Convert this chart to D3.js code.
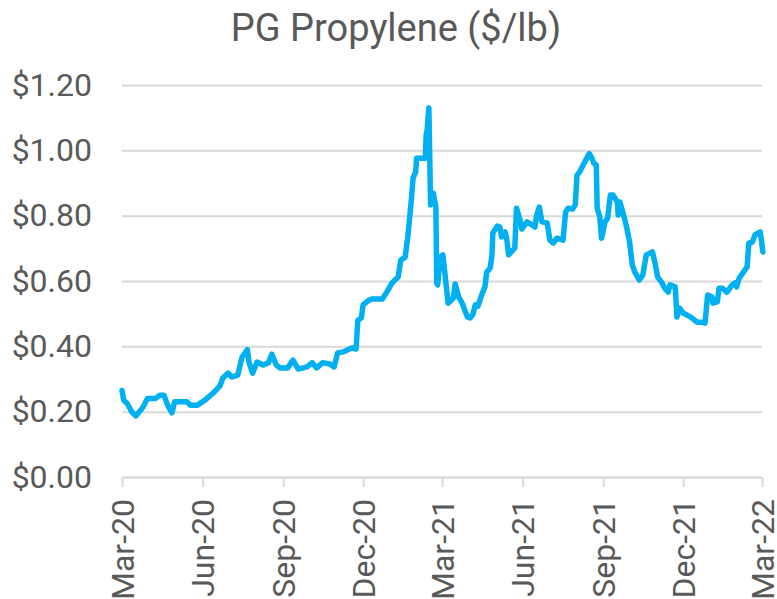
<!DOCTYPE html>
<html>
<head>
<meta charset="utf-8">
<script src="https://cdn.jsdelivr.net/npm/d3@7"></script>
<style>
  body { margin: 0; background: #fff; }
  text { font-family: Roboto, "Noto Sans", sans-serif; fill: #595959; }
</style>
</head>
<body>
<div id="chart"></div>
<script>
var dates = [
  "2020-03-01","2020-03-03","2020-03-07","2020-03-12","2020-03-17","2020-03-25","2020-03-30",
  "2020-04-08","2020-04-13","2020-04-18","2020-04-22","2020-04-27","2020-04-30",
  "2020-05-14","2020-05-18","2020-05-26","2020-06-04","2020-06-13","2020-06-21","2020-06-24","2020-06-30",
  "2020-07-04","2020-07-11","2020-07-16","2020-07-22","2020-07-24","2020-07-28",
  "2020-08-02","2020-08-09","2020-08-15","2020-08-19","2020-08-24","2020-08-28",
  "2020-09-06","2020-09-12","2020-09-18","2020-09-28","2020-10-04","2020-10-09","2020-10-16","2020-10-24","2020-10-29",
  "2020-11-02","2020-11-08","2020-11-13","2020-11-18","2020-11-23","2020-11-25","2020-11-29",
  "2020-12-01","2020-12-07","2020-12-11","2020-12-23","2020-12-28",
  "2021-01-03","2021-01-10","2021-01-13","2021-01-18","2021-01-21","2021-01-25","2021-01-27","2021-01-30","2021-01-31",
  "2021-02-10","2021-02-11","2021-02-12","2021-02-14","2021-02-16","2021-02-19","2021-02-22","2021-02-23","2021-02-24","2021-02-27",
  "2021-03-02","2021-03-08","2021-03-14","2021-03-16","2021-03-20","2021-03-24","2021-03-30",
  "2021-04-02","2021-04-05","2021-04-08","2021-04-11","2021-04-16","2021-04-19","2021-04-21","2021-04-25","2021-04-27","2021-04-28",
  "2021-05-03","2021-05-06","2021-05-08","2021-05-12","2021-05-14","2021-05-16","2021-05-23","2021-05-25","2021-05-29","2021-05-31",
  "2021-06-06","2021-06-12","2021-06-15","2021-06-17","2021-06-20","2021-06-23","2021-06-29",
  "2021-07-02","2021-07-06","2021-07-10","2021-07-17","2021-07-20","2021-07-23","2021-07-28","2021-07-31",
  "2021-08-02","2021-08-05","2021-08-09","2021-08-12","2021-08-16","2021-08-19","2021-08-21","2021-08-24","2021-08-25","2021-08-28","2021-08-30",
  "2021-09-03","2021-09-06","2021-09-09","2021-09-12","2021-09-17","2021-09-18","2021-09-20","2021-09-25","2021-09-28",
  "2021-10-01","2021-10-04","2021-10-07","2021-10-12","2021-10-16","2021-10-20","2021-10-27","2021-10-30",
  "2021-11-02","2021-11-07","2021-11-10","2021-11-14","2021-11-16","2021-11-22","2021-11-24","2021-11-27",
  "2021-12-01","2021-12-05","2021-12-11","2021-12-17","2021-12-23","2021-12-26","2021-12-29",
  "2022-01-03","2022-01-04","2022-01-09","2022-01-11","2022-01-15","2022-01-20","2022-01-26","2022-01-29","2022-01-31",
  "2022-02-03","2022-02-07","2022-02-12","2022-02-14","2022-02-18","2022-02-21","2022-02-27","2022-03-02"
];
var prices = [
  0.265,0.235,0.225,0.200,0.187,0.214,0.240,
  0.240,0.250,0.250,0.220,0.196,0.230,
  0.230,0.220,0.220,0.236,0.257,0.280,0.303,0.318,
  0.306,0.312,0.367,0.390,0.350,0.318,
  0.352,0.343,0.350,0.376,0.343,0.334,
  0.334,0.358,0.330,0.337,0.350,0.334,0.350,0.346,0.337,
  0.380,0.383,0.389,0.395,0.392,0.480,0.487,
  0.527,0.540,0.545,0.545,0.566,
  0.594,0.612,0.664,0.673,0.735,0.848,0.915,0.934,0.976,
  0.976,1.050,1.060,1.130,0.833,0.869,0.827,0.594,0.588,0.673,
  0.680,0.532,0.548,0.591,0.551,0.532,0.490,
  0.487,0.496,0.527,0.523,0.563,0.582,0.627,0.640,0.680,0.747,
  0.768,0.765,0.735,0.750,0.725,0.680,0.701,0.823,0.787,0.759,
  0.781,0.771,0.765,0.802,0.826,0.781,0.778,
  0.725,0.716,0.731,0.725,0.811,0.823,0.820,0.833,
  0.924,0.934,0.955,0.970,0.990,0.976,0.961,0.955,0.823,0.796,0.731,
  0.781,0.793,0.863,0.863,0.842,0.802,0.842,0.793,0.760,
  0.719,0.649,0.627,0.603,0.618,0.680,0.689,0.655,
  0.612,0.594,0.578,0.566,0.588,0.582,0.490,0.517,
  0.502,0.496,0.487,0.474,0.474,0.471,0.557,
  0.551,0.532,0.536,0.578,0.578,0.566,0.588,0.594,0.582,
  0.609,0.624,0.643,0.716,0.719,0.741,0.750,0.689
];
var tickDates = ["2020-03-01","2020-06-01","2020-09-01","2020-12-01","2021-03-01","2021-06-01","2021-09-01","2021-12-01","2022-03-01"];
var yTicks = [0, 0.2, 0.4, 0.6, 0.8, 1.0, 1.2];

var W = 777, H = 599;
var margin = {top: 85, right: 15, bottom: 122, left: 122},
  width = W - margin.left - margin.right,
  height = H - margin.top - margin.bottom;

var parse = d3.timeParse("%Y-%m-%d");
var data = dates.map(function(d, i) { return {date: parse(d), value: prices[i]}; });

var svg = d3.select("#chart")
  .append("svg")
  .attr("width", W)
  .attr("height", H);

svg.append("text")
  .attr("x", 396)
  .attr("y", 41)
  .attr("text-anchor", "middle")
  .style("font-size", "38px")
  .text("PG Propylene ($/lb)");

var g = svg.append("g")
  .attr("transform", "translate(" + margin.left + "," + margin.top + ")");

var x = d3.scaleTime()
  .domain([parse(tickDates[0]), parse(tickDates[tickDates.length - 1])])
  .range([0, width]);

var y = d3.scaleLinear()
  .domain([0, 1.2])
  .range([height, 0]);

// gridlines + y labels
var yAxis = g.append("g")
  .call(d3.axisLeft(y).tickValues(yTicks).tickSize(-width).tickPadding(30)
    .tickFormat(function(d) { return "$" + d.toFixed(2); }));
yAxis.select(".domain").remove();
yAxis.selectAll(".tick line").attr("stroke", "#d9d9d9").attr("stroke-width", 2);
yAxis.selectAll(".tick text").style("font-size", "32px").attr("fill", "#595959");

// x axis
var xAxis = g.append("g")
  .attr("transform", "translate(0," + height + ")")
  .call(d3.axisBottom(x).tickValues(tickDates.map(parse)).tickSize(10).tickSizeOuter(0)
    .tickFormat(d3.timeFormat("%b-%y")));
xAxis.select(".domain").attr("stroke", "#d9d9d9").attr("stroke-width", 2);
xAxis.selectAll(".tick line").attr("stroke", "#d9d9d9").attr("stroke-width", 2);
xAxis.selectAll(".tick text")
  .style("font-size", "32px")
  .attr("fill", "#595959")
  .attr("text-anchor", "end")
  .attr("transform", "rotate(-90)")
  .attr("x", -22)
  .attr("y", 0)
  .attr("dy", "0.35em");

g.append("path")
  .datum(data)
  .attr("fill", "none")
  .attr("stroke", "#00b0f0")
  .attr("stroke-width", 5.5)
  .attr("stroke-linejoin", "round")
  .attr("stroke-linecap", "round")
  .attr("d", d3.line()
    .x(function(d) { return x(d.date); })
    .y(function(d) { return y(d.value); }));
</script>
</body>
</html>
